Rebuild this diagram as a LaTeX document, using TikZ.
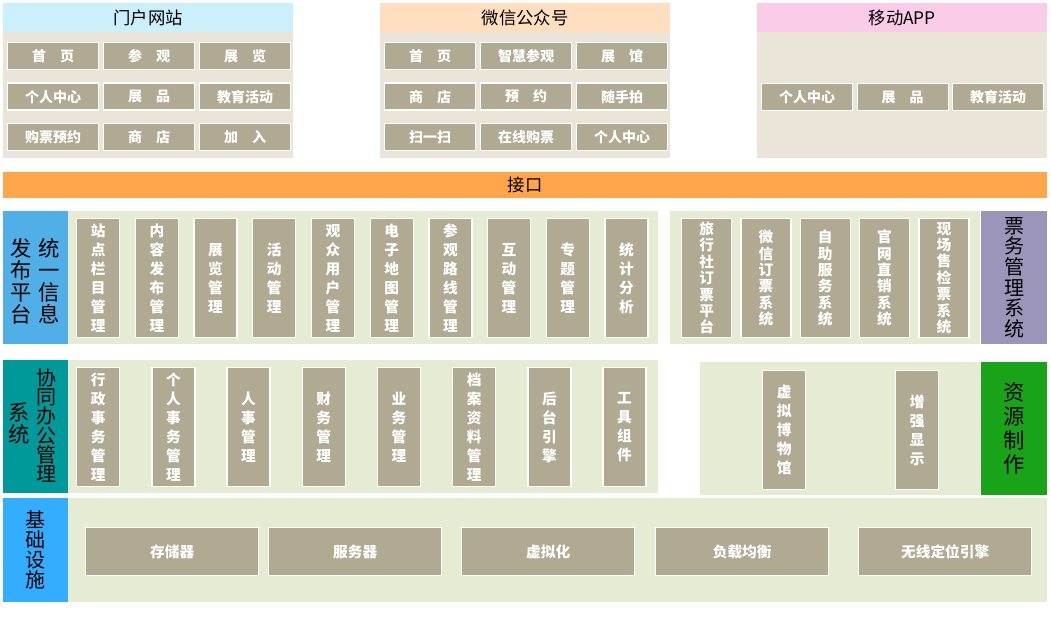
\documentclass[tikz,border=0pt]{standalone}
\usepackage{fontspec}
\newfontfamily\cjk{Noto Sans CJK SC}
\usetikzlibrary{positioning}
\definecolor{btngray}{HTML}{B0AA92}
\definecolor{panelgreen}{HTML}{E6ECD3}
\definecolor{panelbeige}{HTML}{EBE5D9}
\definecolor{tktpurple}{HTML}{9B95B9}
\definecolor{offteal}{HTML}{009999}
\begin{document}
\begin{tikzpicture}[x=0.75pt,y=-0.75pt,
    panel/.style={anchor=north west, inner sep=0pt, fill=panelgreen},
    btn/.style={anchor=north west, inner sep=0pt, fill=btngray, draw=white,
                line width=1pt, text=white, align=center,
                font=\cjk\bfseries\fontsize{11}{14.25}\selectfont},
    hbtn/.style={btn, minimum width=91*0.75pt, minimum height=27*0.75pt,
                 font=\cjk\bfseries\fontsize{10.5}{12}\selectfont},
    vbtn/.style={btn, minimum width=43*0.75pt, minimum height=119*0.75pt},
    sidelabel/.style={anchor=north west, inner sep=0pt, align=center,
                      font=\cjk\fontsize{16}{16.5}\selectfont}]
  \useasboundingbox (0,0) rectangle (1051,617);
  % top channels
  \node [panel, fill=panelbeige, minimum width=290*0.75pt, minimum height=155*0.75pt] (portal) at (3,3) {};
  \node [panel, fill=cyan!20, minimum width=290*0.75pt, minimum height=29*0.75pt,
         font=\cjk\fontsize{13}{14}\selectfont] (portaltitle) at (3,3) {门户网站};
  \node [panel, fill=panelbeige, minimum width=290*0.75pt, minimum height=155*0.75pt] (wechat) at (380,3) {};
  \node [panel, fill=orange!25, minimum width=290*0.75pt, minimum height=29*0.75pt,
         font=\cjk\fontsize{13}{14}\selectfont] (wechattitle) at (380,3) {微信公众号};
  \node [panel, fill=panelbeige, minimum width=290*0.75pt, minimum height=155*0.75pt] (app) at (757,3) {};
  \node [panel, fill=magenta!20, minimum width=290*0.75pt, minimum height=29*0.75pt,
         font=\cjk\fontsize{13}{14}\selectfont] (apptitle) at (757,3) {移动APP};
  \foreach \t [count=\i from 0] in {首　页,参　观,展　览,个人中心,展　品,教育活动,购票预约,商　店,加　入}
    \node [hbtn] (portal\i) at ({7+mod(\i,3)*96},{42+int(\i/3)*40.5}) {\t};
  \foreach \t [count=\i from 0] in {首　页,智慧参观,展　馆,商　店,预　约,随手拍,扫一扫,在线购票,个人中心}
    \node [hbtn] (wechat\i) at ({384+mod(\i,3)*96},{42+int(\i/3)*40.5}) {\t};
  \foreach \t [count=\i from 0] in {个人中心,展　品,教育活动}
    \node [hbtn] (app\i) at ({761+\i*95.5},83) {\t};
  % interface bar
  \node [panel, fill=orange!70, minimum width=1044*0.75pt, minimum height=26*0.75pt,
         font=\cjk\fontsize{13}{14}\selectfont] (iface) at (3,172) {接口};
  % row 1: publishing and ticketing
  \node [panel, fill=cyan!80!blue!70, minimum width=65*0.75pt, minimum height=133*0.75pt] (pubbox) at (3,211) {};
  \node [sidelabel] (publabel) at (10,238) {发\\布\\平\\台};
  \node [sidelabel] (publabel2) at (38,238) {统\\一\\信\\息};
  \node [panel, minimum width=590*0.75pt, minimum height=133*0.75pt] (pubpanel) at (68,211) {};
  \foreach \t [count=\i from 0] in {{站\\点\\栏\\目\\管\\理},{内\\容\\发\\布\\管\\理},{展\\览\\管\\理},
      {活\\动\\管\\理},{观\\众\\用\\户\\管\\理},{电\\子\\地\\图\\管\\理},{参\\观\\路\\线\\管\\理},
      {互\\动\\管\\理},{专\\题\\管\\理},{统\\计\\分\\析}}
    \node [vbtn] (pub\i) at ({76+\i*58.7},218) {\t};
  \node [panel, minimum width=310*0.75pt, minimum height=133*0.75pt] (tktpanel) at (670,211) {};
  \foreach \t [count=\i from 0] in {{旅\\行\\社\\订\\票\\平\\台},{微\\信\\订\\票\\系\\统},{自\\助\\服\\务\\系\\统},
      {官\\网\\直\\销\\系\\统},{现\\场\\售\\检\\票\\系\\统}}
    \node [vbtn, minimum width=50*0.75pt, font=\cjk\bfseries\fontsize{11}{12.3}\selectfont] (tkt\i) at ({681+\i*59.3},218) {\t};
  \node [panel, fill=tktpurple, minimum width=66*0.75pt, minimum height=133*0.75pt,
         align=center, font=\cjk\fontsize{15}{15.5}\selectfont] (tktbox) at (981,211) {票\\务\\管\\理\\系\\统};
  % row 2: office and resources
  \node [panel, fill=offteal, minimum width=65*0.75pt, minimum height=133*0.75pt] (offbox) at (3,360) {};
  \node [sidelabel] (offlabel) at (8,402) {系\\统};
  \node [sidelabel, font=\cjk\fontsize{15}{14.5}\selectfont] (offlabel2) at (36,368) {协\\同\\办\\公\\管\\理};
  \node [panel, minimum width=590*0.75pt, minimum height=133*0.75pt] (offpanel) at (68,360) {};
  \foreach \t [count=\i from 0] in {{行\\政\\事\\务\\管\\理},{个\\人\\事\\务\\管\\理},{人\\事\\管\\理},
      {财\\务\\管\\理},{业\\务\\管\\理},{档\\案\\资\\料\\管\\理},{后\\台\\引\\擎},{工\\具\\组\\件}}
    \node [vbtn] (off\i) at ({76+\i*75.2},367) {\t};
  \node [panel, minimum width=280*0.75pt, minimum height=133*0.75pt] (respanel) at (700,362) {};
  \node [vbtn] (res0) at (762,370) {虚\\拟\\博\\物\\馆};
  \node [vbtn] (res1) at (895,370) {增\\强\\显\\示};
  \node [panel, fill=green!60!black!90, minimum width=66*0.75pt, minimum height=133*0.75pt,
         align=center, font=\cjk\fontsize{16}{18}\selectfont] (resbox) at (981,362) {资\\源\\制\\作};
  % row 3: infrastructure
  \node [panel, fill=blue!40!cyan!80, minimum width=65*0.75pt, minimum height=104*0.75pt,
         align=center, font=\cjk\fontsize{15}{15}\selectfont] (infbox) at (3,498) {基\\础\\设\\施};
  \node [panel, minimum width=979*0.75pt, minimum height=104*0.75pt] (infpanel) at (68,498) {};
  \foreach \t/\x [count=\i from 0] in {存储器/85,服务器/268,虚拟化/461,负载均衡/655,无线定位引擎/858}
    \node [btn, minimum width=173*0.75pt, minimum height=48*0.75pt,
           font=\cjk\bfseries\fontsize{11}{12}\selectfont] (inf\i) at (\x,527) {\t};
\end{tikzpicture}
\end{document}
